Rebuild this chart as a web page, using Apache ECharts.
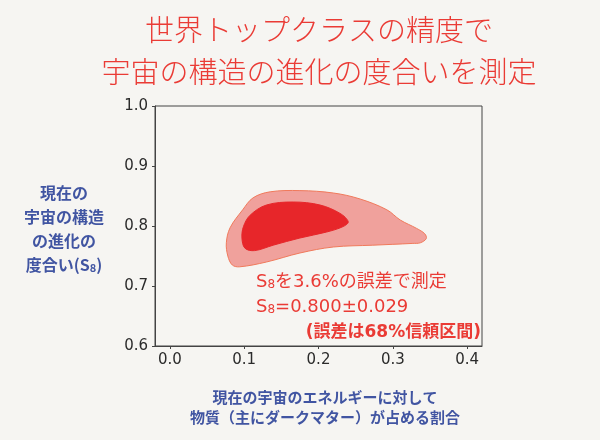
<!DOCTYPE html>
<html>
<head>
<meta charset="utf-8">
<script src="https://cdn.jsdelivr.net/npm/echarts@6/dist/echarts.min.js"></script>
<style>
  html, body { margin: 0; padding: 0; background: #f6f5f2; }
  #chart { width: 600px; height: 440px; }
</style>
</head>
<body>
<div id="chart"></div>
<script>
// 95% contour (outer), [Ωm, S8]
var outerContour = [
  [0.076, 0.772], [0.081, 0.797], [0.098, 0.827], [0.112, 0.847], [0.135, 0.857],
  [0.175, 0.859], [0.220, 0.855], [0.256, 0.845], [0.292, 0.827], [0.310, 0.810],
  [0.332, 0.796], [0.343, 0.787], [0.345, 0.779], [0.337, 0.772], [0.327, 0.771],
  [0.273, 0.768], [0.220, 0.765], [0.175, 0.755], [0.130, 0.740], [0.094, 0.732],
  [0.084, 0.735], [0.078, 0.750]
];
// 68% contour (inner)
var innerContour = [
  [0.099, 0.799], [0.108, 0.818], [0.130, 0.835], [0.166, 0.840], [0.202, 0.835],
  [0.229, 0.821], [0.240, 0.807], [0.233, 0.799], [0.211, 0.790], [0.175, 0.780],
  [0.139, 0.768], [0.114, 0.759], [0.101, 0.763], [0.097, 0.780]
];
var xTicks = [0.0, 0.1, 0.2, 0.3, 0.4];
var titleLines = ['世界トップクラスの精度で', '宇宙の構造の進化の度合いを測定'];
var yLabelLines = ['現在の', '宇宙の構造', 'の進化の', '度合い(S{sub|8})'];
var xLabelLines = ['現在の宇宙のエネルギーに対して', '物質（主にダークマター）が占める割合'];
var notes = ['S{sub|8}を3.6%の誤差で測定', 'S{sub|8}=0.800±0.029', '(誤差は68%信頼区間)'];

var jp = '"Noto Sans CJK JP", sans-serif';
var mixed = '"DejaVu Sans", "Noto Sans CJK JP", sans-serif';
var red = '#ea3b35';
var blue = '#4155a2';

function contour(points, fill, stroke) {
  return {
    type: 'custom',
    coordinateSystem: 'cartesian2d',
    silent: true,
    clip: true,
    data: points,
    renderItem: function (params, api) {
      if (params.dataIndex !== 0) return null;
      return {
        type: 'polygon',
        shape: { points: points.map(function (p) { return api.coord(p); }), smooth: 0.35 },
        style: { fill: fill, stroke: stroke, lineWidth: 1 }
      };
    }
  };
}

function txt(x, y, text, font, color, align, rich) {
  return {
    type: 'text', x: x, y: y, silent: true,
    style: {
      text: text, fill: color, font: font,
      textAlign: align || 'center', textVerticalAlign: 'middle', rich: rich
    }
  };
}

function sub(size, color, weight, family) {
  return { sub: { fontSize: size, fill: color, fontWeight: weight, fontFamily: family, padding: [size * 0.5, 0, 0, 0] } };
}

var chart = echarts.init(document.getElementById('chart'));

chart.setOption({
  backgroundColor: '#f6f5f2',
  animation: false,
  grid: { left: 155, right: 118, top: 106, bottom: 94, show: true, borderColor: '#444', borderWidth: 1 },
  xAxis: {
    type: 'value', min: -0.02, max: 0.42,
    splitLine: { show: false },
    axisLine: { show: true, onZero: false, lineStyle: { color: '#444' } },
    axisTick: { show: true, length: 3, lineStyle: { color: '#444' }, customValues: xTicks },
    axisLabel: {
      customValues: xTicks, margin: 7, color: '#2b2b2b', fontFamily: 'DejaVu Sans', fontSize: 15,
      formatter: function (v) { return v.toFixed(1); }
    }
  },
  yAxis: {
    type: 'value', min: 0.6, max: 1.0, interval: 0.1,
    splitLine: { show: false },
    axisLine: { show: true, onZero: false, lineStyle: { color: '#444' } },
    axisTick: { show: true, length: 3, lineStyle: { color: '#444' } },
    axisLabel: {
      margin: 7, color: '#2b2b2b', fontFamily: 'DejaVu Sans', fontSize: 15,
      formatter: function (v) { return v.toFixed(1); }
    }
  },
  series: [
    contour(outerContour, '#f0a19c', '#f07a5c'),
    contour(innerContour, '#e7262a', '#e7262a')
  ],
  graphic: [
    txt(319, 30, titleLines[0], '300 29px ' + jp, red),
    txt(319, 72, titleLines[1], '300 29px ' + jp, red),
    txt(64, 193, yLabelLines[0], 'bold 16px ' + jp, blue),
    txt(64, 217, yLabelLines[1], 'bold 16px ' + jp, blue),
    txt(64, 241, yLabelLines[2], 'bold 16px ' + jp, blue),
    txt(64, 265, yLabelLines[3], 'bold 16px ' + jp, blue, 'center', sub(11, blue, 'bold', jp)),
    txt(325, 397, xLabelLines[0], 'bold 15px ' + jp, blue),
    txt(325, 417, xLabelLines[1], 'bold 15px ' + jp, blue),
    txt(256, 282, notes[0], '18px ' + mixed, red, 'left', sub(12, red, 'normal', mixed)),
    txt(256, 307, notes[1], '18px ' + mixed, red, 'left', sub(12, red, 'normal', mixed)),
    txt(481, 333, notes[2], 'bold 17px ' + mixed, red, 'right')
  ]
});
</script>
</body>
</html>
